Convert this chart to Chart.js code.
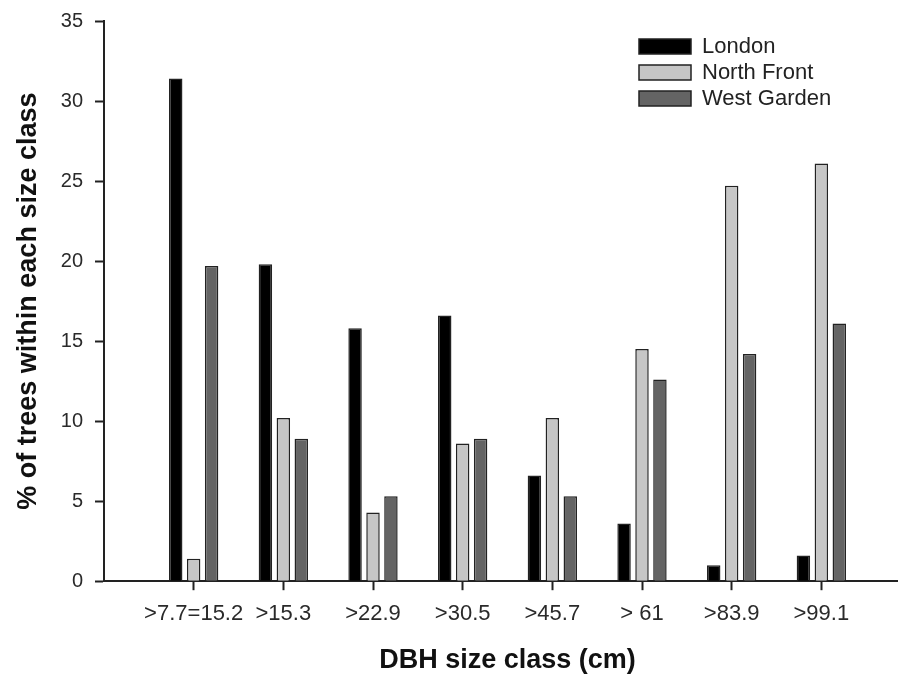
<!DOCTYPE html>
<html>
<head>
<meta charset="utf-8">
<script src="https://cdn.jsdelivr.net/npm/chart.js@4/dist/chart.umd.min.js"></script>
<style>
  html, body { margin: 0; padding: 0; background: #fff; }
  #frame { width: 898px; height: 677px; overflow: hidden; }
  #wrap { position: relative; width: 922px; height: 680px; margin-top: -3px; }
</style>
</head>
<body>
<div id="frame"><div id="wrap"><canvas id="dbhChart"></canvas></div></div>
<script>
'use strict';
// size classes (x axis)
const sizeClasses = ['>7.7=15.2', '>15.3', '>22.9', '>30.5', '>45.7', '> 61', '>83.9', '>99.1'];
// % of trees per size class
const london = [31.4, 19.8, 15.8, 16.6, 6.6, 3.6, 1.0, 1.6];
const northFront = [1.4, 10.2, 4.3, 8.6, 10.2, 14.5, 24.7, 26.1];
const westGarden = [19.7, 8.9, 5.3, 8.9, 5.3, 12.6, 14.2, 16.1];
// y axis ticks
const yTicks = [0, 5, 10, 15, 20, 25, 30, 35];

const fontFamily = '"Liberation Sans", Arial, sans-serif';

// empty slot on each side so the axis runs from 0 to 9
const labels = [''].concat(sizeClasses, ['']);
const pad = (arr) => [null].concat(arr, [null]);

// legend in the top right corner of the plot
const cornerLegend = {
  id: 'cornerLegend',
  afterDraw(chart) {
    const ctx = chart.ctx;
    const x = chart.chartArea.left + 535;
    let y = chart.chartArea.top + 18;
    ctx.save();
    ctx.font = '22px ' + fontFamily;
    ctx.textBaseline = 'middle';
    chart.data.datasets.forEach((ds) => {
      ctx.fillStyle = ds.backgroundColor;
      ctx.fillRect(x, y, 52, 15);
      ctx.strokeStyle = '#222';
      ctx.lineWidth = 1.5;
      ctx.strokeRect(x, y, 52, 15);
      ctx.fillStyle = '#222';
      ctx.fillText(ds.label, x + 63, y + 8);
      y += 26;
    });
    ctx.restore();
  }
};

const ctx = document.getElementById('dbhChart').getContext('2d');
const chart = new Chart(ctx, {
  type: 'bar',
  data: {
    labels: labels,
    datasets: [
      { label: 'London', data: pad(london), backgroundColor: '#000000' },
      { label: 'North Front', data: pad(northFront), backgroundColor: '#c6c6c6' },
      { label: 'West Garden', data: pad(westGarden), backgroundColor: '#646464' }
    ]
  },
  options: {
    responsive: true,
    maintainAspectRatio: false,
    animation: false,
    categoryPercentage: 0.6,
    barPercentage: 0.75,
    datasets: {
      bar: { borderColor: '#222', borderWidth: 1.5 }
    },
    layout: { padding: { top: 2, left: 0, right: 2, bottom: 0 } },
    plugins: {
      legend: { display: false },
      tooltip: { enabled: false }
    },
    scales: {
      x: {
        offset: false,
        grid: {
          offset: false,
          drawOnChartArea: false,
          tickLength: 9,
          tickWidth: 2,
          tickColor: (c) => (c.index === 0 || c.index === labels.length - 1) ? 'rgba(0,0,0,0)' : '#222'
        },
        border: { color: '#222', width: 2 },
        ticks: {
          autoSkip: false,
          maxRotation: 0,
          padding: 11,
          color: '#2a2a2a',
          font: { family: fontFamily, size: 22 }
        },
        title: {
          display: true,
          text: 'DBH size class (cm)',
          color: '#111',
          font: { family: fontFamily, size: 27, weight: 'bold' },
          padding: { top: 6, bottom: 0 }
        }
      },
      y: {
        min: yTicks[0],
        max: yTicks[yTicks.length - 1],
        afterBuildTicks: (scale) => {
          scale.ticks = yTicks.map((v) => ({ value: v }));
        },
        afterFit: (scale) => {
          scale.width = 104;
        },
        grid: {
          drawOnChartArea: false,
          tickLength: 9,
          tickWidth: 2,
          tickColor: '#222'
        },
        border: { color: '#222', width: 2 },
        ticks: {
          padding: 12,
          color: '#2a2a2a',
          font: { family: fontFamily, size: 20 }
        },
        title: {
          display: true,
          text: '% of trees within each size class',
          color: '#111',
          font: { family: fontFamily, size: 27, weight: 'bold' },
          padding: { top: 12, bottom: 16 }
        }
      }
    }
  },
  plugins: [cornerLegend]
});
</script>
</body>
</html>
